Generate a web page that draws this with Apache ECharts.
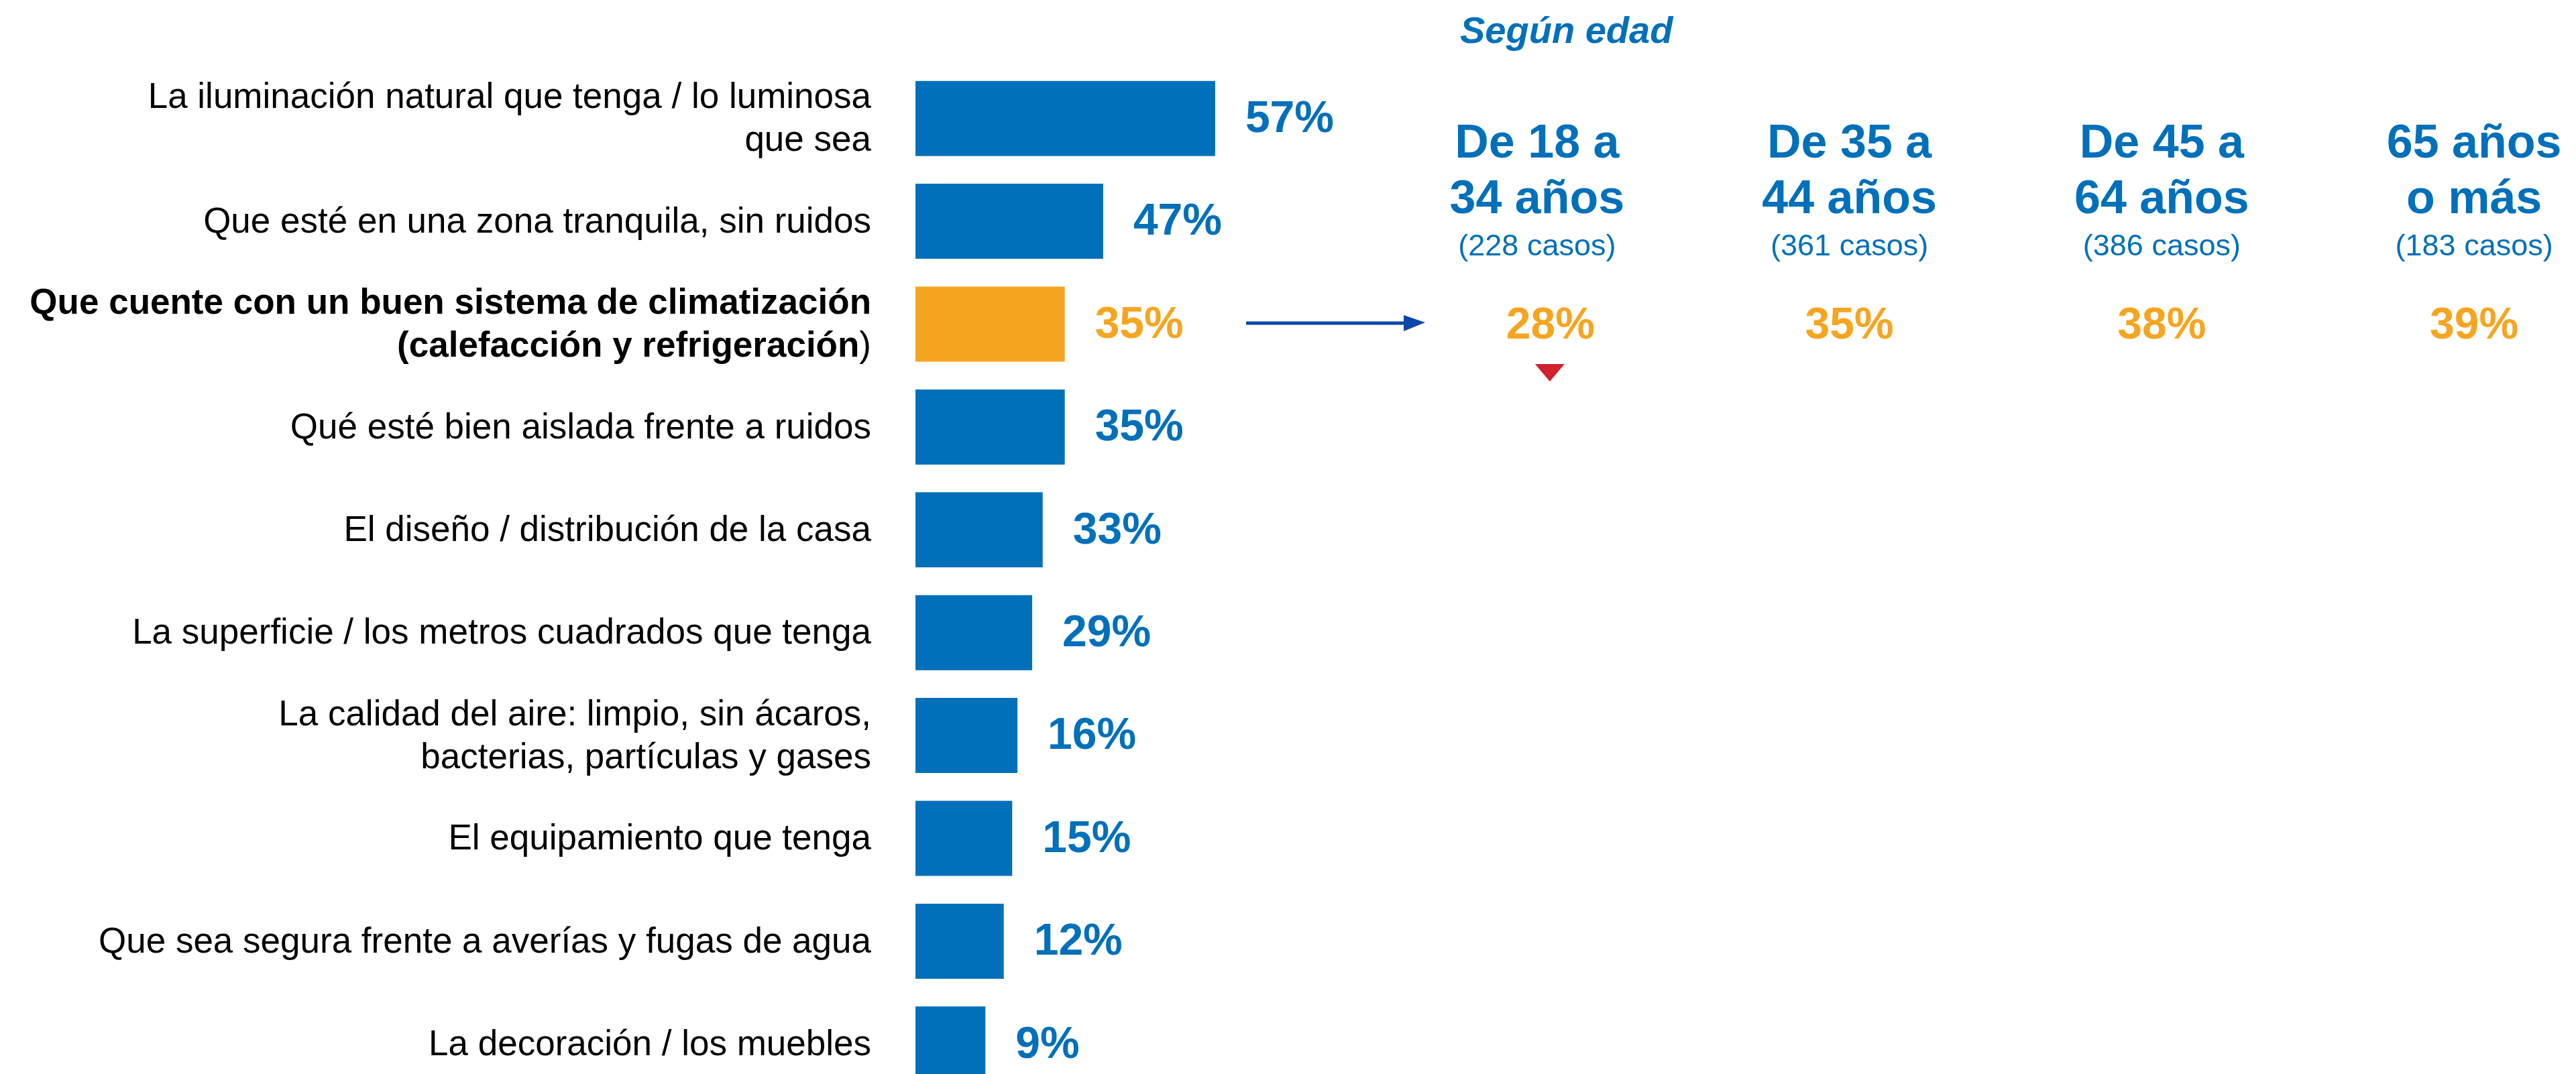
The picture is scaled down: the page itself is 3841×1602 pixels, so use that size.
<!DOCTYPE html>
<html>
<head>
<meta charset="utf-8">
<script src="https://cdn.jsdelivr.net/npm/echarts@6/dist/echarts.min.js"></script>
<style>
html, body { margin: 0; padding: 0; background: #fff; }
#chart { width: 3841px; height: 1602px; }
</style>
</head>
<body>
<div id="chart"></div>
<script>
var items = [
    'La iluminación natural que tenga / lo luminosa\nque sea',
    'Que esté en una zona tranquila, sin ruidos',
    'Que cuente con un buen sistema de climatización\n(calefacción y refrigeración)',
    'Qué esté bien aislada frente a ruidos',
    'El diseño / distribución de la casa',
    'La superficie / los metros cuadrados que tenga',
    'La calidad del aire: limpio, sin ácaros,\nbacterias, partículas y gases',
    'El equipamiento que tenga',
    'Que sea segura frente a averías y fugas de agua',
    'La decoración / los muebles'
];
// printed percentages
var shares = [57, 47, 35, 35, 33, 29, 16, 15, 12, 9];
// bar lengths as drawn in the original (not to scale with the printed %)
var barLength = [57, 35.7, 28.4, 28.4, 24.2, 22.2, 19.4, 18.4, 16.8, 13.3];
var highlight = 2;

var ageGroups = ['De 18 a\n34 años', 'De 35 a\n44 años', 'De 45 a\n64 años', '65 años\no más'];
var ageCases = [228, 361, 386, 183];
var ageShares = [28, 35, 38, 39];
var ageSigDown = [true, false, false, false];

var BLUE = '#0070BA';
var ORANGE = '#F6A521';
var FONT = '"Liberation Sans", Arial, sans-serif';

var chart = echarts.init(document.getElementById('chart'));

var barData = barLength.map(function (v, i) {
    var c = i === highlight ? ORANGE : BLUE;
    return { value: v, itemStyle: { color: c }, label: { color: c } };
});

var option = {
    animation: false,
    backgroundColor: '#fff',
    textStyle: { fontFamily: FONT },
    title: {
        text: 'Según edad',
        left: 2177,
        top: 21,
        padding: 0,
        textStyle: { fontFamily: FONT, fontSize: 56, fontStyle: 'italic', fontWeight: 'bold', color: BLUE }
    },
    grid: [
        { left: 1365, top: 100, width: 784, height: 1534, outerBoundsMode: 'none' },
        { left: 2059, top: 398, width: 1863, height: 176, outerBoundsMode: 'none' }
    ],
    xAxis: [
        { gridIndex: 0, type: 'value', min: 0, max: 100, show: false },
        {
            gridIndex: 1, type: 'category', data: ageGroups, position: 'top',
            axisLine: { show: false }, axisTick: { show: false }, splitLine: { show: false },
            axisLabel: {
                interval: 0, margin: 0,
                formatter: function (v, i) {
                    var l = v.split('\n');
                    return '{h|' + l[0] + '}\n{h|' + l[1] + '}\n{c|(' + ageCases[i] + ' casos)}';
                },
                rich: {
                    h: { fontFamily: FONT, fontSize: 70, fontWeight: 'bold', lineHeight: 83, color: BLUE },
                    c: { fontFamily: FONT, fontSize: 45, lineHeight: 58, color: BLUE }
                }
            }
        }
    ],
    yAxis: [
        {
            gridIndex: 0, type: 'category', data: items, inverse: true,
            axisLine: { show: false }, axisTick: { show: false }, splitLine: { show: false },
            axisLabel: {
                margin: 66, fontFamily: FONT, fontSize: 53, lineHeight: 64, color: '#000',
                padding: [4, 0, 0, 0],
                formatter: function (v, i) {
                    if (i !== highlight) return v;
                    var l = v.split('\n');
                    return '{b|' + l[0] + '}\n{b|' + l[1].slice(0, -1) + '}{n|)}';
                },
                rich: {
                    b: { fontFamily: FONT, fontSize: 53, lineHeight: 64, fontWeight: 'bold', color: '#000' },
                    n: { fontFamily: FONT, fontSize: 53, lineHeight: 64, color: '#000' }
                }
            }
        },
        { gridIndex: 1, type: 'category', data: ['climatización'], show: false }
    ],
    series: [
        {
            type: 'bar',
            xAxisIndex: 0, yAxisIndex: 0,
            barWidth: 112,
            data: barData,
            label: {
                show: true, position: 'right', distance: 45, offset: [0, 2],
                fontFamily: FONT, fontSize: 66, fontWeight: 'bold',
                formatter: function (p) { return shares[p.dataIndex] + '%'; }
            }
        },
        {
            type: 'scatter',
            xAxisIndex: 1, yAxisIndex: 1,
            symbolSize: 1,
            itemStyle: { color: 'rgba(0,0,0,0)', opacity: 1 },
            data: ageShares.map(function (v, i) {
                return { value: [i, 0, v], label: { offset: [i === 0 ? 20 : 0, 1] } };
            }),
            label: {
                show: true, position: 'inside',
                fontFamily: FONT, fontSize: 66, fontWeight: 'bold', color: ORANGE,
                formatter: function (p) { return p.value[2] + '%'; }
            }
        },
        {
            type: 'scatter',
            xAxisIndex: 1, yAxisIndex: 1,
            symbol: 'path://M0,0 L44,0 L22,26 Z',
            symbolKeepAspect: false,
            symbolSize: [44, 26],
            symbolOffset: [19, 70],
            itemStyle: { color: '#D0212D', opacity: 1 },
            data: ageSigDown.map(function (s, i) { return s ? [i, 0] : null; }).filter(Boolean)
        }
    ],
    graphic: [
        {
            type: 'group',
            children: [
                { type: 'line', shape: { x1: 1858, y1: 482, x2: 2100, y2: 482 }, style: { stroke: '#0A47A9', lineWidth: 5 } },
                { type: 'polygon', shape: { points: [[2093, 470], [2125, 481], [2093, 494]] }, style: { fill: '#0A47A9' } }
            ]
        }
    ]
};

chart.setOption(option);
</script>
</body>
</html>
